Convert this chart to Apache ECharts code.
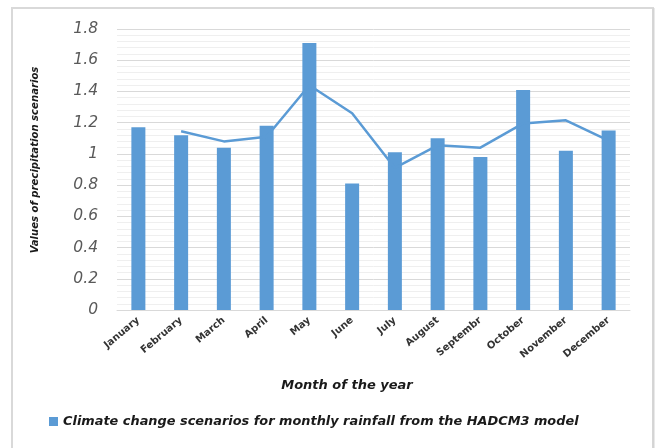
<!DOCTYPE html>
<html>
<head>
<meta charset="utf-8">
<script src="https://cdn.jsdelivr.net/npm/echarts@6/dist/echarts.min.js"></script>
<style>
  html, body { margin: 0; padding: 0; background: #ffffff; }
  #chart { width: 662px; height: 448px; }
</style>
</head>
<body>
<div id="chart"></div>
<script>
// Months on the category axis
const months = ['January', 'February', 'March', 'April', 'May', 'June',
  'July', 'August', 'Septembr', 'October', 'November', 'December'];

// HADCM3 monthly rainfall change scenario values (bars)
const rainfallScenario = [1.17, 1.12, 1.04, 1.18, 1.71, 0.81, 1.01, 1.10, 0.98, 1.41, 1.02, 1.15];

// Two-month moving trend line (no value for January)
const trendLine = ['-', 1.145, 1.08, 1.11, 1.44, 1.26, 0.91, 1.055, 1.04, 1.195, 1.215, 1.085];

// Value axis tick labels, 0 to 1.8 in steps of 0.2
const yTickLabels = ['0', '0.2', '0.4', '0.6', '0.8', '1', '1.2', '1.4', '1.6', '1.8'];

const seriesName = 'Climate change scenarios for monthly rainfall from the HADCM3 model';
const yTitle = 'Values of precipitation scenarios';
const xTitle = 'Month of the year';
const blue = '#5B9BD5';
const font = 'DejaVu Sans';

const titleStyle = {
  fontFamily: font,
  fontStyle: 'italic',
  fontWeight: 'bold',
  fill: '#1a1a1a',
  align: 'center',
  verticalAlign: 'middle'
};

const chart = echarts.init(document.getElementById('chart'), null, { renderer: 'canvas' });

chart.setOption({
  backgroundColor: '#ffffff',
  animation: false,
  grid: { left: 117, right: 32, top: 29, bottom: 138, containLabel: false },
  graphic: [
    {
      type: 'rect',
      shape: { x: 12, y: 8, width: 641, height: 460 },
      style: { fill: 'none', stroke: '#d9d9d9', lineWidth: 2 },
      silent: true
    },
    {
      type: 'line',
      shape: { x1: 653.5, y1: 8, x2: 653.5, y2: 448 },
      style: { stroke: '#d4d4d4', lineWidth: 2 },
      silent: true
    },
    {
      // vertical value-axis title
      type: 'text',
      x: 35,
      y: 160,
      rotation: Math.PI / 2,
      silent: true,
      style: Object.assign({ text: yTitle, fontSize: 10.1 }, titleStyle)
    },
    {
      // category-axis title
      type: 'text',
      x: 347,
      y: 386,
      silent: true,
      style: Object.assign({ text: xTitle, fontSize: 13 }, titleStyle)
    }
  ],
  legend: {
    data: [seriesName],
    left: 44,
    top: 410,
    icon: 'rect',
    itemWidth: 9,
    itemHeight: 9,
    itemGap: 6,
    textStyle: {
      fontFamily: font,
      fontStyle: 'italic',
      fontWeight: 'bold',
      fontSize: 12.9,
      color: '#1a1a1a'
    }
  },
  xAxis: {
    type: 'category',
    data: months,
    axisLine: { show: true, lineStyle: { color: '#d9d9d9', width: 1 } },
    axisTick: { show: false },
    axisLabel: {
      interval: 0,
      rotate: 40,
      margin: 9,
      fontFamily: font,
      fontWeight: 'bold',
      fontSize: 10,
      color: '#333333'
    }
  },
  yAxis: {
    type: 'value',
    min: 0,
    max: 1.8,
    interval: 0.2,
    axisLine: { show: false },
    axisTick: { show: false },
    axisLabel: {
      margin: 19,
      fontFamily: font,
      fontStyle: 'italic',
      fontSize: 15.5,
      color: '#595959',
      formatter: (v) => yTickLabels[Math.round(v / 0.2)]
    },
    splitLine: { show: true, lineStyle: { color: '#d9d9d9', width: 1 } },
    minorTick: { show: false, splitNumber: 5 },
    minorSplitLine: { show: true, lineStyle: { color: '#efefef', width: 1 } }
  },
  series: [
    {
      name: seriesName,
      type: 'bar',
      data: rainfallScenario,
      barWidth: 14,
      itemStyle: { color: blue }
    },
    {
      name: 'trend',
      type: 'line',
      data: trendLine,
      showSymbol: false,
      symbol: 'none',
      lineStyle: { color: blue, width: 2.5 },
      z: 3
    }
  ]
});
</script>
</body>
</html>
